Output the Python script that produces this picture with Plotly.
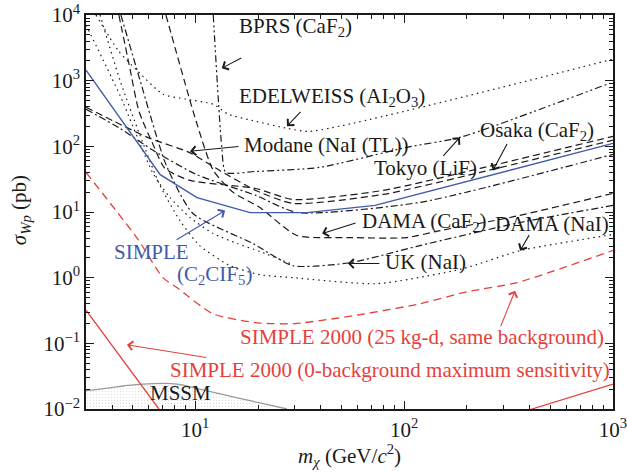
import numpy as np
import plotly.graph_objects as go

# ---------------- data ----------------
simple_x = [3, 6.8, 10.2, 18.3, 34.3, 72.5, 1000]
simple_y = [1450, 37, 16.6, 9.8, 9.8, 12.6, 111]

s2000_25_x = [3, 5.3, 7.0, 8.2, 12.2, 19.8, 30, 60, 119, 200, 347, 1000]
s2000_25_y = [40, 3.9, 1.0, 0.70, 0.28, 0.205, 0.20, 0.27, 0.40, 0.61, 0.84, 2.6]

s2000_0_x = [3, 6.7, 8, 300, 409, 1000]
s2000_0_y = [0.32, 0.01, 0.005, 0.005, 0.01, 0.024]

mssm_x = [3, 3.9, 4.6, 5.6, 8.2, 10.5, 16.3, 20.4, 27.5]
mssm_y = [0.019, 0.021, 0.0226, 0.024, 0.024, 0.020, 0.0145, 0.0124, 0.010]

bprs_x = [12.2, 13.4, 14.0, 19.5, 39.5, 103, 185, 966]
bprs_y = [10000, 96.6, 40.1, 41.5, 47.8, 96.6, 137, 916]

edel_x = [3.35, 4.3, 5.3, 7.0, 9.0, 12.2, 14.4, 19.5, 27.5, 35.4, 1000]
edel_y = [10000, 2820, 1400, 622, 523, 438, 308, 241, 188, 169, 2130]

osaka_x = [4.31, 4.82, 5.38, 6.28, 7.16, 9.44, 19.5, 29.4, 79.2, 231, 1000]
osaka_y = [10000, 1790, 342, 107, 46.1, 30.3, 22.8, 15.5, 21.3, 46.1, 142]

modane_x = [3.0, 4.36, 6.08, 9.34, 13.1, 19.5, 29.4, 79.2, 231, 1000]
modane_y = [394, 217, 132, 81, 43.0, 21.3, 13.5, 18.5, 40.1, 124]

damacaf_x = [7.24, 10.1, 12.2, 15.2, 20.4, 30.7, 55.1, 103, 149, 321, 1000]
damacaf_y = [10000, 241, 43, 19.9, 11.7, 4.38, 4.08, 4.08, 5.22, 8.24, 19.2]

tokyo_x = [3.0, 4.36, 6.28, 10.1, 19.5, 30.7, 119, 1000]
tokyo_y = [367, 188, 86.9, 37.4, 17.9, 9.83, 14.0, 75.5]

uk_x = [4.41, 5.44, 7.24, 9.75, 18.9, 29.4, 55.1, 119, 359, 1000]
uk_y = [10000, 1020, 53.1, 9.49, 3.31, 1.52, 1.69, 3.08, 6.92, 12.6]

damanai_x = [3.5, 4.36, 5.44, 6.78, 8.45, 10.5, 14.7, 20.4, 29.4, 74.1, 191, 359, 1000]
damanai_y = [10000, 1020, 147, 25.4, 7.41, 3.08, 1.52, 1.11, 1.0, 0.81, 1.37, 2.58, 4.53]

extra_dot_x = [3.0, 4.36, 6.28, 7.57, 9.44, 12.2, 15.9, 20.4, 29.4]
extra_dot_y = [7040, 601, 38.7, 16.6, 8.24, 4.70, 3.31, 2.50, 1.58]

x_tick_vals = [10, 100, 1000]
x_tick_text = ["10<sup>1</sup>", "10<sup>2</sup>", "10<sup>3</sup>"]
y_tick_vals = [0.01, 0.1, 1, 10, 100, 1000, 10000]
y_tick_text = ["10<sup>−2</sup>", "10<sup>−1</sup>", "10<sup>0</sup>", "10<sup>1</sup>",
               "10<sup>2</sup>", "10<sup>3</sup>", "10<sup>4</sup>"]

# ---------------- styles ----------------
BLUE = "#3f5ba9"
RED = "#e5413b"
BLACK = "#1a1a1a"
FONT = "Liberation Serif"
FS = 21
DOT = "1.5px,4px"
DASH = "7px,4px"
DASHDOT = "7px,3px,2px,3px"
DASHDOTDOT = "7px,3px,2px,3px,2px,3px"

fig = go.Figure()

# MSSM region (pattern-filled polygon + edge)
fig.add_trace(go.Scatter(
    x=mssm_x + [mssm_x[-1], mssm_x[0]],
    y=mssm_y + [0.005, 0.005],
    fill="toself", mode="lines", line=dict(width=0),
    fillcolor="rgba(255,255,255,0)",
    fillpattern=dict(shape=".", fgcolor="#b4b4b4", bgcolor="#ffffff", size=3, solidity=0.12),
    hoverinfo="skip", showlegend=False))
fig.add_trace(go.Scatter(x=mssm_x, y=mssm_y, mode="lines",
                         line=dict(color="#9a9a9a", width=1.3, shape="spline"), showlegend=False))

black_curves = [
    (bprs_x, bprs_y, DASHDOTDOT),
    (edel_x, edel_y, DOT),
    (osaka_x, osaka_y, DASH),
    (modane_x, modane_y, DASH),
    (damacaf_x, damacaf_y, DASH),
    (tokyo_x, tokyo_y, DASHDOT),
    (uk_x, uk_y, DASHDOT),
    (damanai_x, damanai_y, DOT),
    (extra_dot_x, extra_dot_y, DOT),
]
for cx, cy, dash in black_curves:
    fig.add_trace(go.Scatter(x=cx, y=cy, mode="lines",
                             line=dict(color=BLACK, width=1.2, dash=dash, shape="spline", smoothing=0.6),
                             showlegend=False))

fig.add_trace(go.Scatter(x=s2000_25_x, y=s2000_25_y, mode="lines",
                         line=dict(color=RED, width=1.3, dash="8px,5px", shape="spline", smoothing=0.6),
                         showlegend=False))
fig.add_trace(go.Scatter(x=s2000_0_x, y=s2000_0_y, mode="lines",
                         line=dict(color=RED, width=1.3), showlegend=False))
fig.add_trace(go.Scatter(x=simple_x, y=simple_y, mode="lines",
                         line=dict(color=BLUE, width=1.4), showlegend=False))

# ---------------- labels ----------------
labels = [
    ("BPRS (CaF<sub>2</sub>)", 0.2865, 0.9695, BLACK),
    ("EDELWEISS (AI<sub>2</sub>O<sub>3</sub>)", 0.2865, 0.7919, BLACK),
    ("Modane (NaI (TL))", 0.2960, 0.6701, BLACK),
    ("Osaka (CaF<sub>2</sub>)", 0.7438, 0.7056, BLACK),
    ("Tokyo (LiF)", 0.5427, 0.6117, BLACK),
    ("DAMA (CaF<sub>2</sub>)", 0.5199, 0.4746, BLACK),
    ("DAMA (NaI)", 0.7723, 0.4695, BLACK),
    ("UK (NaI)", 0.5636, 0.3731, BLACK),
    ("SIMPLE", 0.0493, 0.3985, BLUE),
    ("(C<sub>2</sub>CIF<sub>5</sub>)", 0.1689, 0.3401, BLUE),
    ("SIMPLE 2000 (25 kg-d, same background)", 0.2884, 0.1827, RED),
    ("SIMPLE 2000 (0-background maximum sensitivity)", 0.1556, 0.0990, RED),
    ("MSSM", 0.1176, 0.0406, BLACK),
]
annotations = []
for txt, px_, py_, col in labels:
    annotations.append(dict(text=txt, x=px_, y=py_, xref="paper", yref="paper",
                            xanchor="left", yanchor="middle", showarrow=False,
                            font=dict(family=FONT, size=FS, color=col)))

# arrows: head at data point, tail offset in pixels
arrows = [
    (13.4, 1550, 21, -11, BLACK),
    (27.5, 202, 15, -16, BLACK),
    (9.44, 84, 50, -5, BLACK),
    (185, 137, -18, 20, BLACK),
    (266, 43, 15, -28, BLACK),
    (40.5, 4.7, 35, -11, BLACK),
    (359, 2.58, 10, -17, BLACK),
    (53.8, 1.64, 33, 0, BLACK),
    (13.9, 10.5, -50, 30, BLUE),
    (340, 0.634, -15, 37, RED),
    (4.71, 0.095, 81, 13, RED),
]
for hx, hy, ax, ay, col in arrows:
    annotations.append(dict(text="", x=np.log10(hx), y=np.log10(hy), xref="x", yref="y",
                            ax=ax, ay=ay, showarrow=True, arrowhead=4, arrowsize=1.6,
                            arrowwidth=1.1, arrowcolor=col))

# axis titles
annotations.append(dict(text="<i>m</i><sub><i>χ</i></sub> (GeV/<i>c</i><sup>2</sup>)",
                        x=0.5, y=-0.118, xref="paper", yref="paper", showarrow=False,
                        xanchor="center", yanchor="middle",
                        font=dict(family=FONT, size=FS, color=BLACK)))
annotations.append(dict(text="<i>σ</i><sub><i>Wp</i></sub> (pb)",
                        x=-0.125, y=0.505, xref="paper", yref="paper", showarrow=False,
                        xanchor="center", yanchor="middle", textangle=-90,
                        font=dict(family=FONT, size=FS, color=BLACK)))

x_minor = [m * 10 ** e for e in range(0, 3) for m in range(2, 10) if m * 10 ** e >= 3]
y_minor = [m * 10.0 ** e for e in range(-2, 4) for m in range(2, 10)]

axis_common = dict(showgrid=False, zeroline=False, showline=True, linecolor=BLACK, linewidth=1.5,
                   mirror="ticks", ticks="inside", ticklen=8, tickwidth=1.2, tickcolor=BLACK,
                   automargin=False, ticklabeloverflow="allow",
                   tickfont=dict(family=FONT, size=FS, color=BLACK))

fig.update_layout(
    width=627, height=472,
    margin=dict(l=86, r=14, t=15, b=63, autoexpand=False),
    paper_bgcolor="white", plot_bgcolor="white",
    showlegend=False,
    annotations=annotations,
    xaxis=dict(type="log", range=[np.log10(3), 3], tickmode="array",
               tickvals=x_tick_vals, ticktext=x_tick_text, ticklabelstandoff=1,
               minor=dict(tickmode="array", tickvals=x_minor, ticks="inside", ticklen=4,
                          tickwidth=1, tickcolor=BLACK, showgrid=False),
               **axis_common),
    yaxis=dict(type="log", range=[-2, 4], tickmode="array",
               tickvals=y_tick_vals, ticktext=y_tick_text,
               minor=dict(tickmode="array", tickvals=y_minor, ticks="inside", ticklen=4,
                          tickwidth=1, tickcolor=BLACK, showgrid=False),
               **axis_common),
)

fig.write_html("out.html")
